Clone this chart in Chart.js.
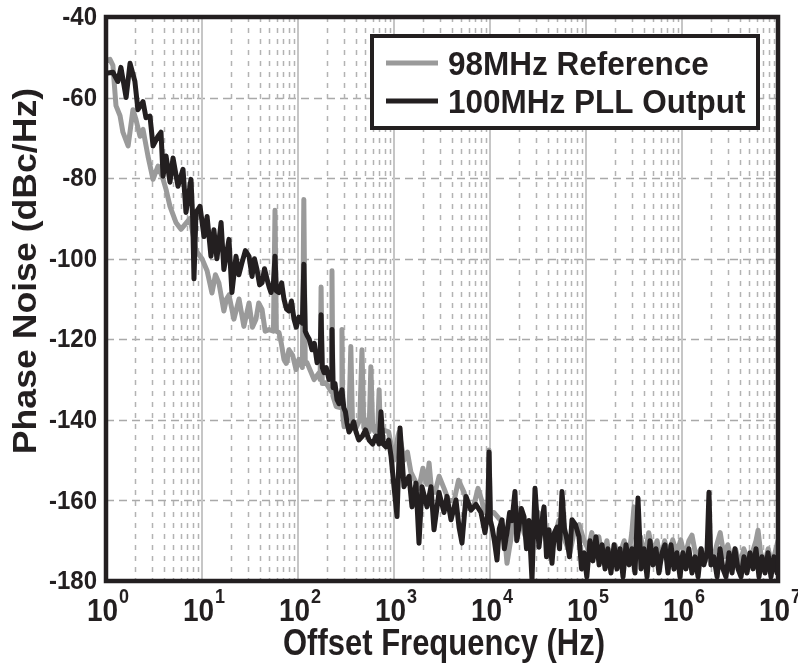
<!DOCTYPE html>
<html>
<head>
<meta charset="utf-8">
<script src="https://cdn.jsdelivr.net/npm/chart.js@4/dist/chart.umd.min.js"></script>
<style>
  html, body { margin: 0; padding: 0; background: #ffffff; }
  #wrap { width: 798px; height: 663px; }
</style>
</head>
<body>
<div id="wrap"><canvas id="pn" width="798" height="663"></canvas></div>
<script>
// Offset frequency (Hz) and phase noise (dBc/Hz) for the 98 MHz reference
const refFreq = [
  1.0, 1.10, 1.18, 1.27, 1.40, 1.50, 1.70, 1.91, 2.05, 2.26, 2.43, 2.74, 3.09, 3.48, 3.9, 4.22, 4.64, 5.35, 6.04, 7.50,
  8.66, 10.0, 11.3, 12.7, 13.8, 15.0, 16.9, 18.0, 19.1, 21.5, 24.3, 27.3, 30.9, 33.5, 36.5, 39.0, 42.2, 45.5, 49.9, 55.5,
  57.6, 59.5, 63.4, 67, 71.4, 75.5, 80.5, 88, 95.3, 102, 111, 115, 119, 124, 147, 166, 170, 174, 179, 195,
  222, 226, 231, 250, 282, 287, 293, 302, 340, 355, 370, 402, 440, 464, 485, 511, 550, 574, 600, 634,
  680, 700, 720, 766, 880, 1000, 1100, 1130, 1270, 1380, 1500, 1650, 1820, 2000, 2200, 2320, 2450, 2680, 2950, 3320,
  3700, 4230, 4700, 5370, 6000, 6820, 7500, 8200, 8800, 9500, 9772, 10100, 11000, 12950, 14000, 15030, 16400, 17800, 20000, 22600,
  25000, 28500, 32000, 36500, 41000, 46400, 52000, 61700, 68000, 74990, 85000, 95300,
  1.05e5, 1.15e5, 1.25e5, 1.36e5, 1.5e5, 1.65e5, 1.8e5, 2.0e5, 2.2e5, 2.5e5, 2.75e5, 3.0e5, 3.16e5, 3.4e5, 3.7e5, 4.1e5, 4.5e5, 5.0e5, 5.5e5, 6.0e5,
  6.6e5, 7.2e5, 8.0e5, 8.8e5, 9.7e5, 1.07e6, 1.18e6, 1.27e6, 1.4e6, 1.58e6, 1.75e6, 1.9e6, 2.1e6, 2.3e6, 2.5e6, 2.75e6, 3.0e6, 3.3e6, 3.6e6, 4.0e6,
  4.4e6, 4.9e6, 5.4e6, 5.9e6, 6.2e6, 6.6e6, 7.2e6, 7.9e6, 8.6e6, 9.3e6, 1.0e7
];
const refNoise = [
  -51, -50.5, -52, -62, -64.5, -68.6, -72, -63, -65.4, -69.6, -67.9, -74.6, -80.3, -77, -80, -82.8, -87, -91, -92.7, -90,
  -98, -100, -103, -108.5, -104, -106, -113, -110, -109, -115, -110, -116.8, -111, -117, -115, -111, -112.6, -118, -117.6, -118,
  -88, -118, -118.3, -121, -125, -126, -122.6, -124, -127.5, -125, -127, -85.3, -126, -125.8, -130, -128.3, -130, -107, -131, -130.8,
  -133, -103, -134, -136.7, -137, -117.6, -139, -141.7, -139, -121.8, -141, -142, -140, -122.6, -142, -140, -143, -126.8, -142, -143,
  -141, -132.5, -143, -142.5, -143, -150, -144, -143, -150, -148, -153, -155, -157, -152, -156, -150.7, -157, -158, -154, -157,
  -160, -160, -155, -158, -162, -161, -157, -160, -163, -162, -147.5, -163, -163, -165, -167, -175.6, -170, -163, -162, -168,
  -171, -166, -163, -168, -172, -170, -165, -170.6, -173, -168, -166, -170,
  -172, -168, -174, -169, -175, -170, -176, -171, -174, -170, -175, -168, -161.6, -173, -169, -174, -168, -173, -170, -175,
  -170, -174, -169.8, -173, -169.8, -174, -170, -168.6, -174, -172, -175, -171, -175, -171, -168, -174, -171, -175, -172, -176,
  -172, -175, -173, -170, -167.4, -173, -176, -172, -176, -173, -170
];

// Offset frequency (Hz) and phase noise (dBc/Hz) for the 100 MHz PLL output
const pllFreq = [
  1.0, 1.18, 1.33, 1.43, 1.62, 1.78, 2.0, 2.15, 2.43, 2.61, 2.87, 3.09, 3.48, 3.74, 3.93, 4.22, 4.64, 4.99, 5.62, 6.34,
  6.81, 7.68, 8.0, 8.25, 8.66, 9.53, 10.5, 11.3, 12.4, 13.3, 14.3, 15.8, 16.9, 19.1, 20.5, 22.6, 24.2, 26.1, 28.3, 30.9,
  33.2, 35.2, 37.4, 39.8, 42.2, 44.8, 47.5, 50, 52.3, 55.5, 57.6, 59.5, 63.4, 67.5, 71.4, 76, 80.5, 85.5, 90.8, 96,
  102, 111, 115, 119, 124, 131, 140, 148, 158, 170, 174, 179, 187, 197, 210, 222, 226, 232, 243, 255,
  268, 282, 287, 300, 312, 324, 340, 360, 380, 402, 430, 470, 505, 550, 600, 650, 700, 732, 770, 826,
  880, 931, 1000, 1075, 1155, 1270, 1433, 1540, 1695, 1821, 1958, 2207, 2427, 2610, 2943, 3318, 3565, 3925, 4424, 4754,
  5108, 5623, 6340, 7144, 8053, 8868, 9500, 9772, 10100, 10500, 11100, 11830, 12500, 13340, 14100, 15030, 16000, 16950, 18200, 19000,
  20050, 21200, 22600, 24000, 25480, 27380, 29430, 32360, 34400, 36520, 38800, 41170, 44240, 46900, 49890, 53000, 56230, 59700, 63390, 67300,
  71450, 77700, 84540, 89800, 95300,
  1.02e5, 1.10e5, 1.18e5, 1.27e5, 1.37e5, 1.47e5, 1.58e5, 1.69e5, 1.82e5, 1.96e5, 2.10e5, 2.26e5, 2.43e5, 2.61e5, 2.81e5, 3.01e5, 3.24e5, 3.48e5, 3.74e5, 4.02e5,
  4.32e5, 4.64e5, 4.99e5, 5.36e5, 5.75e5, 6.19e5, 6.65e5, 7.14e5, 7.68e5, 8.25e5, 8.87e5, 9.53e5, 1.02e6, 1.10e6, 1.18e6, 1.27e6, 1.37e6, 1.47e6, 1.58e6, 1.69e6,
  1.82e6, 1.91e6, 2.00e6, 2.15e6, 2.32e6, 2.49e6, 2.67e6, 2.87e6, 3.09e6, 3.32e6, 3.56e6, 3.83e6, 4.12e6, 4.42e6, 4.75e6, 5.11e6, 5.49e6, 5.90e6, 6.34e6, 6.81e6,
  7.33e6, 7.87e6, 8.45e6, 9.08e6, 9.77e6
];
const pllNoise = [
  -54, -53.7, -56, -52.5, -60, -51.5, -56, -63, -61, -65, -64.6, -72, -69.6, -68.6, -79.5, -74.5, -81, -75, -82, -77.8,
  -88.5, -80.3, -90, -105, -88.5, -87, -94.5, -89.5, -99.4, -92.8, -100, -91, -102.7, -95.2, -108.4, -99.4, -104, -101, -98, -99.4,
  -104.4, -100, -102.7, -106.5, -106, -102.5, -105, -107, -108.4, -106, -99.4, -108, -108.4, -106, -110, -112.5, -113, -110.5, -115, -117,
  -114.5, -116, -101.4, -118, -119, -120, -122.6, -121, -125.8, -124, -113.9, -127, -128.3, -127, -130, -129, -117.6, -132, -131, -135,
  -136, -133, -132.5, -137, -138, -140.7, -143, -142, -140.5, -143, -145, -144, -142.5, -145, -146, -144, -146, -138, -146, -146.7,
  -145, -149, -156.6, -164, -142, -156.6, -154, -161.6, -155.7, -170.6, -156.6, -161.6, -156.6, -167.3, -158, -163, -159, -164.8, -159.9, -166.6,
  -170.6, -159, -162.4, -161, -163, -168, -163, -148, -165, -166.6, -170, -174.8, -167, -164.8, -172, -168, -163, -165, -157.8, -170,
  -166.6, -162, -164, -172, -165, -179.8, -157, -171.6, -166, -161.6, -174, -167.3, -175.6, -168, -166.6, -172, -157.8, -167, -169.8, -174,
  -164.8, -166, -169, -177, -173,
  -179, -170, -175, -169, -176, -171, -177, -172, -178, -171, -177, -172, -179, -171, -176, -172, -178, -159.4, -177, -172,
  -179, -170, -176, -172, -178, -173, -171, -178, -171, -177, -173, -179, -173, -177, -172, -178, -174, -179, -172, -176,
  -173, -158, -176, -174, -179, -172, -177, -179, -173, -178, -172, -177, -179, -174, -178, -173, -177, -172, -179, -174,
  -178, -173, -179, -174, -178
];

// Axis ticks
const yTicks = [-40, -60, -80, -100, -120, -140, -160, -180];
const xTickExponents = [0, 1, 2, 3, 4, 5, 6, 7];
const seriesLabels = ['98MHz Reference', '100MHz PLL Output'];

const INK = '#231f20';
const GREY = '#9a9a9a';

function toPoints(fs, vs) { return fs.map((f, i) => ({ x: f, y: vs[i] })); }

function drawText(ctx, text, x, y, font, o) {
  o = o || {};
  ctx.save();
  ctx.translate(x, y);
  if (o.rot) ctx.rotate(o.rot);
  ctx.scale(o.sx || 1, o.sy || 1);
  ctx.font = font;
  ctx.fillStyle = INK;
  ctx.textAlign = o.align || 'left';
  ctx.textBaseline = o.base || 'alphabetic';
  ctx.fillText(text, 0, 0);
  ctx.restore();
}

const FONT = '"Liberation Sans", Arial, sans-serif';

const gridPlugin = {
  id: 'pnGrid',
  beforeDatasetsDraw(chart) {
    const { ctx, chartArea: a, scales: { x, y } } = chart;
    ctx.save();
    // horizontal dashed grid
    ctx.strokeStyle = '#a9a9a9';
    ctx.lineWidth = 1.5;
    ctx.setLineDash([8, 5]);
    yTicks.forEach(v => {
      const py = Math.round(y.getPixelForValue(v)) + 0.5;
      ctx.beginPath(); ctx.moveTo(a.left, py); ctx.lineTo(a.right, py); ctx.stroke();
    });
    // minor decades, dashed
    ctx.strokeStyle = '#b3b3b3';
    ctx.setLineDash([5, 6]);
    for (let e = 0; e < 7; e++) {
      for (let m = 2; m <= 9; m++) {
        const px = Math.round(x.getPixelForValue(m * Math.pow(10, e))) + 0.5;
        ctx.beginPath(); ctx.moveTo(px, a.top); ctx.lineTo(px, a.bottom); ctx.stroke();
      }
    }
    // decades, solid
    ctx.setLineDash([]);
    ctx.strokeStyle = '#c6c6c6';
    ctx.lineWidth = 2;
    xTickExponents.forEach(e => {
      const px = x.getPixelForValue(Math.pow(10, e));
      ctx.beginPath(); ctx.moveTo(px, a.top); ctx.lineTo(px, a.bottom); ctx.stroke();
    });
    ctx.restore();
  },
  afterDraw(chart) {
    const { ctx, chartArea: a, scales: { x, y } } = chart;
    ctx.save();
    // frame
    ctx.strokeStyle = INK;
    ctx.lineWidth = 4.5;
    ctx.strokeRect(a.left, a.top, a.right - a.left, a.bottom - a.top);

    // y tick labels
    yTicks.forEach(v => {
      drawText(ctx, String(v), 97, y.getPixelForValue(v) + 1, 'bold 24px ' + FONT,
        { align: 'right', base: 'middle', sy: 1.08 });
    });

    // x tick labels: 10 with superscript exponent
    const baseFont = 'bold 28px ' + FONT;
    const supFont = 'bold 18px ' + FONT;
    xTickExponents.forEach(e => {
      const cx = x.getPixelForValue(Math.pow(10, e)) + 2;
      ctx.font = baseFont; const wb = ctx.measureText('10').width;
      ctx.font = supFont; const ws = ctx.measureText(String(e)).width;
      const left = cx - (wb + ws + 1) / 2;
      drawText(ctx, '10', left, 621, baseFont, { sy: 1.15 });
      drawText(ctx, String(e), left + wb + 1, 603, supFont, { sy: 1.15 });
    });

    // axis titles
    drawText(ctx, 'Offset Frequency (Hz)', 444, 655, 'bold 31px ' + FONT,
      { align: 'center', sy: 1.18 });
    drawText(ctx, 'Phase Noise (dBc/Hz)', 36, 271, 'bold 33px ' + FONT,
      { align: 'center', rot: -Math.PI / 2, sx: 1.08 });

    // legend
    const lx = 372, ly = 36, lw = 386, lh = 92;
    ctx.fillStyle = '#ffffff';
    ctx.fillRect(lx, ly, lw, lh);
    ctx.strokeStyle = INK;
    ctx.lineWidth = 4;
    ctx.strokeRect(lx, ly, lw, lh);
    const rows = [{ c: GREY, yy: 63 }, { c: INK, yy: 101 }];
    rows.forEach((r, i) => {
      ctx.strokeStyle = r.c;
      ctx.lineWidth = 5;
      ctx.beginPath(); ctx.moveTo(386, r.yy); ctx.lineTo(438, r.yy); ctx.stroke();
      drawText(ctx, seriesLabels[i], 448, r.yy + 12, 'bold 31.5px ' + FONT, { sy: 1.05 });
    });
    ctx.restore();
  }
};

new Chart(document.getElementById('pn'), {
  type: 'line',
  data: {
    datasets: [
      { label: seriesLabels[0], data: toPoints(refFreq, refNoise), borderColor: GREY, borderWidth: 5,
        pointRadius: 0, tension: 0, order: 1, borderJoinStyle: 'round', borderCapStyle: 'round' },
      { label: seriesLabels[1], data: toPoints(pllFreq, pllNoise), borderColor: INK, borderWidth: 5,
        pointRadius: 0, tension: 0, order: 0, borderJoinStyle: 'round', borderCapStyle: 'round' }
    ]
  },
  options: {
    responsive: false,
    devicePixelRatio: 1,
    animation: false,
    layout: { padding: { left: 106, right: 20, top: 17, bottom: 82 } },
    scales: {
      x: { type: 'logarithmic', min: 1, max: 1e7, display: false },
      y: { type: 'linear', min: -180, max: -40, display: false }
    },
    plugins: { legend: { display: false }, tooltip: { enabled: false } }
  },
  plugins: [gridPlugin]
});
</script>
</body>
</html>
